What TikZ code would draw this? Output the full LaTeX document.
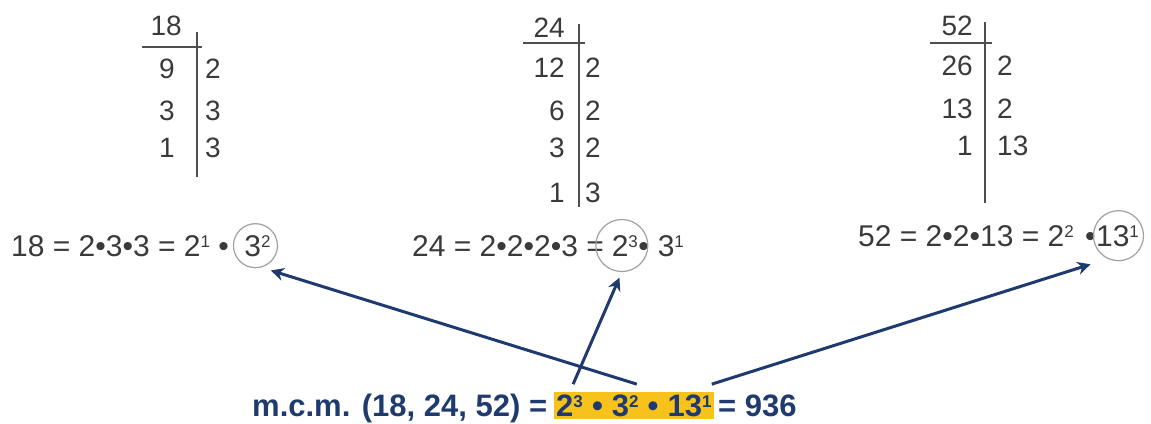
\documentclass[tikz,border=0pt]{standalone}
\usepackage{fontspec}
\setmainfont{Liberation Sans}
\usetikzlibrary{arrows.meta,backgrounds,fit}
\definecolor{ink}{HTML}{3A3A3A}
\definecolor{navy}{HTML}{1E3A6E}
\definecolor{hlcol}{HTML}{F7C21B}
\definecolor{ringcol}{HTML}{A0A0A0}
\newcommand{\gap}[1]{\hspace{#1}\null}
\newcommand{\sups}[1]{\raisebox{9pt}{\fontsize{17}{17}\selectfont #1}}
\begin{document}
\begin{tikzpicture}[x=1pt,y=-1pt,
  num/.style={inner sep=0pt, text=ink, font=\fontsize{28}{30}\selectfont},
  eqn/.style={inner sep=0pt, text=ink, font=\fontsize{30}{32}\selectfont},
  res/.style={inner sep=0pt, text=navy, font=\fontsize{31}{33}\selectfont\bfseries},
  rulestyle/.style={draw=ink!90, line width=1.6pt},
  ringstyle/.style={circle, draw=ringcol, line width=1.2pt, inner sep=0pt},
  arr/.style={draw=navy, line width=3pt, -{Stealth[length=13pt,width=13pt]}}]
\useasboundingbox (0,0) rectangle (1151,423);

% ladder 18
\node[num, anchor=base east] (a0) at (182,35) {18};
\node[num, anchor=base east] (a1) at (175,78) {9};
\node[num, anchor=base west] (a1d) at (205,78) {2};
\node[num, anchor=base east] (a2) at (175,120) {3};
\node[num, anchor=base west] (a2d) at (205,120) {3};
\node[num, anchor=base east] (a3) at (175,157) {1};
\node[num, anchor=base west] (a3d) at (205,157) {3};
\draw[rulestyle] (142,47) -- (202,47);
\draw[rulestyle] (197,32) -- (197,177);

% ladder 24
\node[num, anchor=base east] (b0) at (565,37) {24};
\node[num, anchor=base east] (b1) at (565,77) {12};
\node[num, anchor=base west] (b1d) at (585,77) {2};
\node[num, anchor=base east] (b2) at (565,120) {6};
\node[num, anchor=base west] (b2d) at (585,120) {2};
\node[num, anchor=base east] (b3) at (565,157) {3};
\node[num, anchor=base west] (b3d) at (585,157) {2};
\node[num, anchor=base east] (b4) at (565,202) {1};
\node[num, anchor=base west] (b4d) at (585,202) {3};
\draw[rulestyle] (523,43) -- (585,43);
\draw[rulestyle] (579,24) -- (579,207);

% ladder 52
\node[num, anchor=base east] (d0) at (973,35) {52};
\node[num, anchor=base east] (d1) at (973,75) {26};
\node[num, anchor=base west] (d1d) at (997,75) {2};
\node[num, anchor=base east] (d2) at (973,118) {13};
\node[num, anchor=base west] (d2d) at (997,118) {2};
\node[num, anchor=base east] (d3) at (973,155) {1};
\node[num, anchor=base west] (d3d) at (997,155) {13};
\draw[rulestyle] (930,43) -- (992,43);
\draw[rulestyle] (985,22) -- (985,203);

% equations
\node[eqn, anchor=base west] (e1a) at (11,256) {18 = 2•3•3 = 2\sups{1} •\gap{0.5em}};
\node[eqn, anchor=base west] (e1b) at (e1a.base east) {3\sups{2}};
\node[ringstyle, minimum size=44pt] (c1) at ([xshift=-2pt]e1b.center) {};

\node[eqn, anchor=base west] (e2a) at (412,256) {24 = 2•2•2•3 =\gap{0.25em}};
\node[eqn, anchor=base west] (e2b) at (e2a.base east) {2\sups{3}};
\node[eqn, anchor=base west] (e2c) at (e2b.base east) {•\gap{0.3em}3\sups{1}};
\node[ringstyle, minimum size=52pt] (c2) at ([xshift=-3pt]e2b.center) {};

\node[eqn, anchor=base west] (e3a) at (858,246) {52 = 2•2•13 = 2\sups{2} \gap{0.1em}•};
\node[eqn, anchor=base west] (e3b) at (e3a.base east) {13\sups{1}};
\node[ringstyle, minimum size=50pt] (c3) at ([xshift=1pt]e3b.center) {};

% result line
\node[res, anchor=base west] (m0) at (252,416) {m.c.m. (18, 24, 52) =\gap{0.28em}};
\node[res, anchor=base west] (m1) at (m0.base east) {2\sups{3}};
\node[res, anchor=base west] (m2) at (m1.base east) {\gap{0.28em}•\gap{0.28em}};
\node[res, anchor=base west] (m3) at (m2.base east) {3\sups{2}};
\node[res, anchor=base west] (m4) at (m3.base east) {\gap{0.28em}•\gap{0.28em}};
\node[res, anchor=base west] (m5) at (m4.base east) {13\sups{1}};
\node[res, anchor=base west] (m6) at (m5.base east) {\gap{0.2em}= 936};
\begin{scope}[on background layer]
  \node[fill=hlcol, inner xsep=2pt, inner ysep=2pt, fit=(m1)(m5)] (hl) {};
\end{scope}

% arrows
\draw[arr, shorten >=10pt] ([xshift=-2pt,yshift=10pt]m3.north east) -- (c1.-75);
\draw[arr, shorten >=6pt] ([xshift=-10pt,yshift=10pt]m1.north east) -- (c2.south);
\draw[arr, shorten >=18pt] ([yshift=10pt]m5.north east) -- (c3.-115);
\end{tikzpicture}
\end{document}
